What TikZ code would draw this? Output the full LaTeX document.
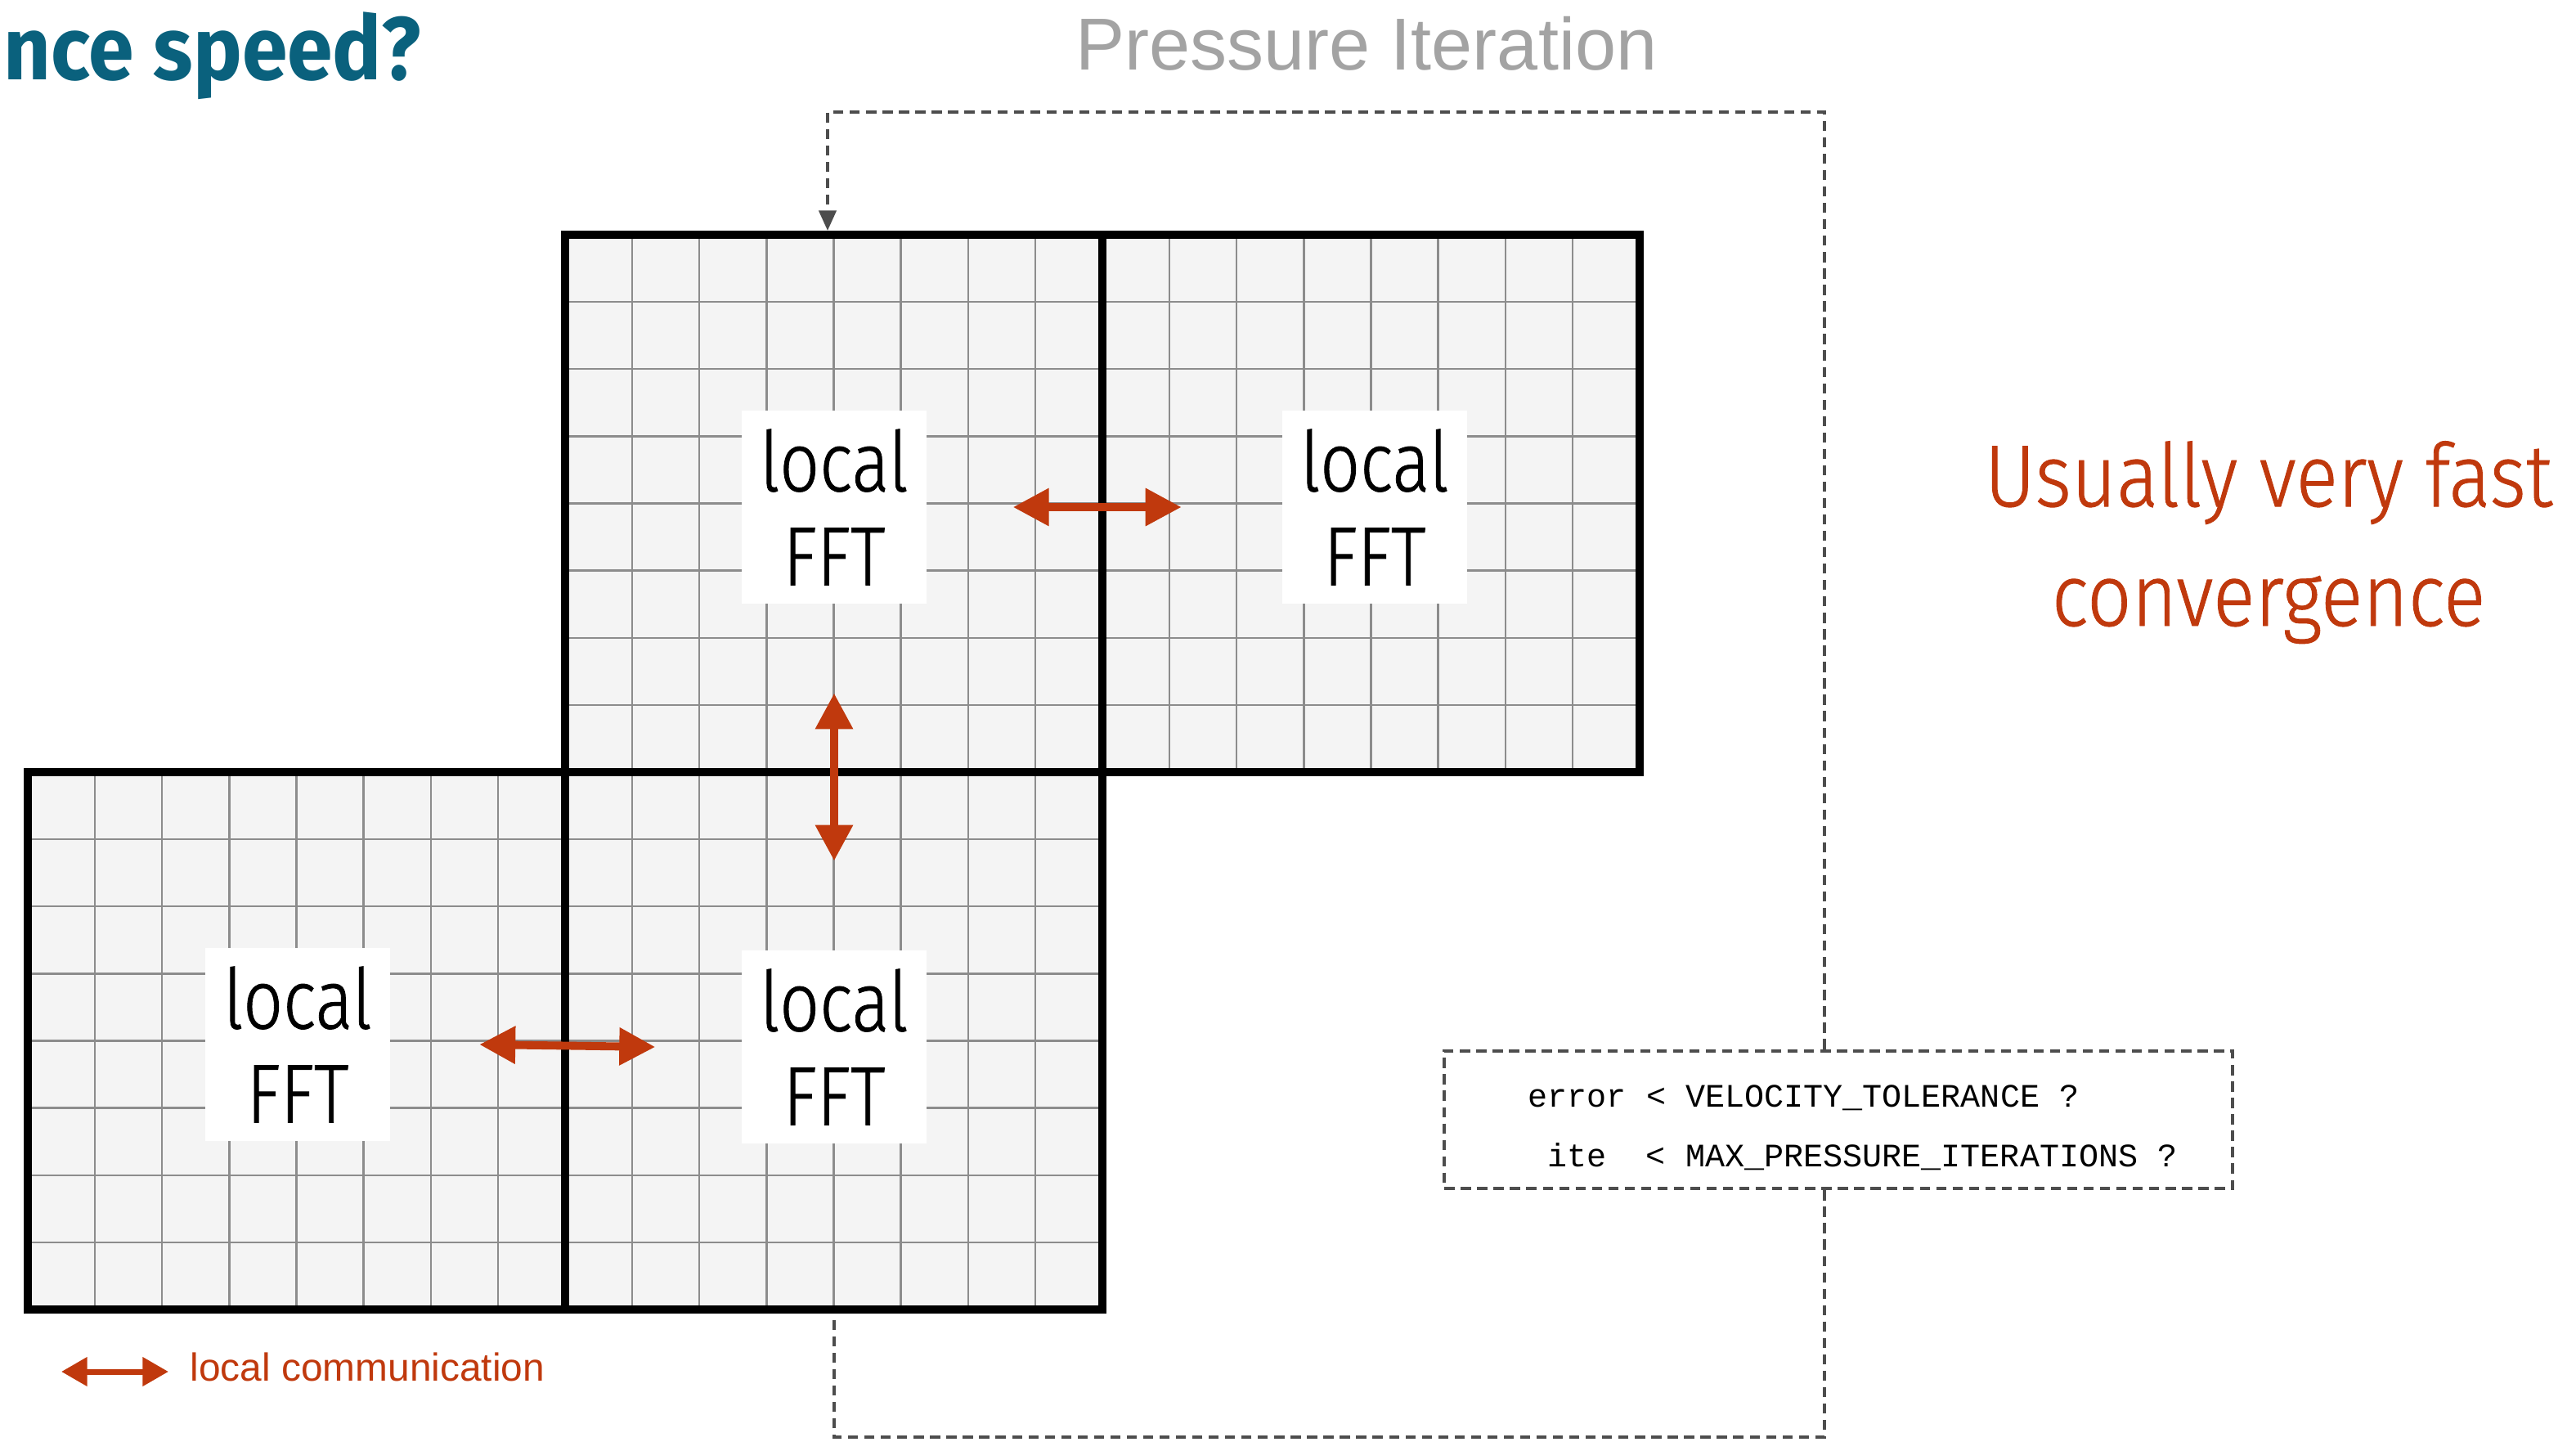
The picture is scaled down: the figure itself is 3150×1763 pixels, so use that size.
\documentclass[tikz,border=0pt]{standalone}
\usepackage{fontspec}
\setmainfont{Liberation Sans}
\setmonofont{Liberation Mono}
\newfontfamily\fftfont[FakeStretch=0.84, FakeBold=0.8]{Fira Sans Light}
\newfontfamily\notefont[FakeStretch=0.89, FakeBold=0.8]{Fira Sans Light}
\newfontfamily\headfont[FakeStretch=0.92]{Fira Sans}
\usetikzlibrary{arrows.meta}

\definecolor{fftred}{HTML}{C0390D}
\definecolor{headteal}{HTML}{0A617D}
\definecolor{loopgray}{HTML}{4D4D4D}
\definecolor{labelgray}{HTML}{A3A3A3}
\definecolor{cellfill}{HTML}{F4F4F4}
\definecolor{cellline}{HTML}{8C8C8C}

\tikzset{
  gridline/.style={draw=cellline, line width=0.7pt},
  domainline/.style={draw=black, line width=2.9pt},
  fftlabel/.style={fill=white, inner sep=0pt, minimum width=64pt, minimum height=67pt, align=center, font=\fftfont\fontsize{29}{32.7}\selectfont},
  commarrow/.style={draw=fftred, line width=2.8pt, {Triangle[length=12.5pt,width=12.5pt]}-{Triangle[length=12.5pt,width=12.5pt]}},
  legendarrow/.style={draw=fftred, line width=2pt, {Triangle[length=9pt,width=9.7pt]}-{Triangle[length=9pt,width=9.7pt]}},
  loopline/.style={draw=loopgray, line width=1.1pt, dash pattern=on 3.5pt off 2.2pt},
  condbox/.style={loopline, minimum width=274pt, minimum height=48pt, inner sep=0pt},
  condtext/.style={font=\ttfamily\fontsize{11.4}{13}\selectfont, inner sep=0pt, anchor=base west},
}

% one sub-domain: 8 x 8 cells, top-left corner at (#1,#2)
\newcommand{\subdomain}[2]{%
  \fill[cellfill] (#1,#2) rectangle ++(657,657);
  \foreach \k in {1,...,7} {
    \draw[gridline] ({#1+\k*82.125},#2) -- ++(0,657);
    \draw[gridline] (#1,{#2+\k*82.125}) -- ++(657,0);
  }
  \draw[domainline] (#1,#2) rectangle ++(657,657);
}

\begin{document}
\begin{tikzpicture}[x=0.01cm, y=-0.01cm]
        \useasboundingbox (0,0) rectangle (3150,1763);
        \subdomain{691}{287}  % top left
        \subdomain{1348}{287}  % top right
        \subdomain{34}{944}  % bottom left
        \subdomain{691}{944}  % bottom middle

        \node[anchor=base west, inner sep=0pt, text=headteal, font=\headfont\bfseries\fontsize{31}{36}\selectfont] (title) at (4,97) {nce speed?};
        \node[anchor=base, inner sep=0pt, text=labelgray, font=\fontsize{25.6}{30}\selectfont] (pressure) at (1671,85) {Pressure Iteration};

        \node[fftlabel] (fftTL) at (1020,620) {local\\FFT};
        \node[fftlabel] (fftTR) at (1681,620) {local\\FFT};
        \node[fftlabel] (fftBL) at (364,1277) {local\\FFT};
        \node[fftlabel] (fftBM) at (1020,1280) {local\\FFT};

        \draw[commarrow] ([xshift=30pt]fftTL.east) -- ([xshift=-35pt]fftTR.west);  % Exchange
        \draw[commarrow] ([yshift=-31pt]fftTL.south) -- ([yshift=31pt]fftBM.north);  % Exchange
        \draw[commarrow] ([xshift=31pt]fftBL.east) -- ([xshift=-30pt]fftBM.west);  % Exchange

        \node[condbox] (cond) at (2248,1369) {};
        \node[condtext] (errtest) at (1868,1353) {error < VELOCITY\_TOLERANCE ?};
        \node[condtext] (itetest) at (1892,1426) {ite\ \ < MAX\_PRESSURE\_ITERATIONS ?};

        \coordinate (loopNE) at (2231,137);
        \coordinate (loopNW) at (1012,137);
        \coordinate (gridTop) at (1012,282);
        \coordinate (loopSE) at (2231,1757);
        \coordinate (loopSW) at (1020,1757);
        \coordinate (gridBot) at (1020,1612);
        \draw[loopline, -{Triangle[length=7pt,width=6pt]}] (cond.north -| loopNE) -- (loopNE) -- (loopNW) -- (gridTop);  % Loop back
        \draw[loopline] (cond.south -| loopSE) -- (loopSE) -- (loopSW) -- (gridBot);  % Loop

        \node[anchor=base, inner sep=0pt, align=center, text=fftred, font=\notefont\fontsize{30.5}{41.5}\selectfont] (fast) at (2774,765) {Usually very fast\\convergence};

        \coordinate (legW) at (75,1677);
        \coordinate (legE) at (206,1677);
        \draw[legendarrow] (legW) -- (legE);  % Legend
        \node[anchor=base west, inner sep=0pt, text=fftred, font=\fontsize{13.6}{16}\selectfont] (legend) at (232,1688) {local communication};
    \end{tikzpicture}
\end{document}
